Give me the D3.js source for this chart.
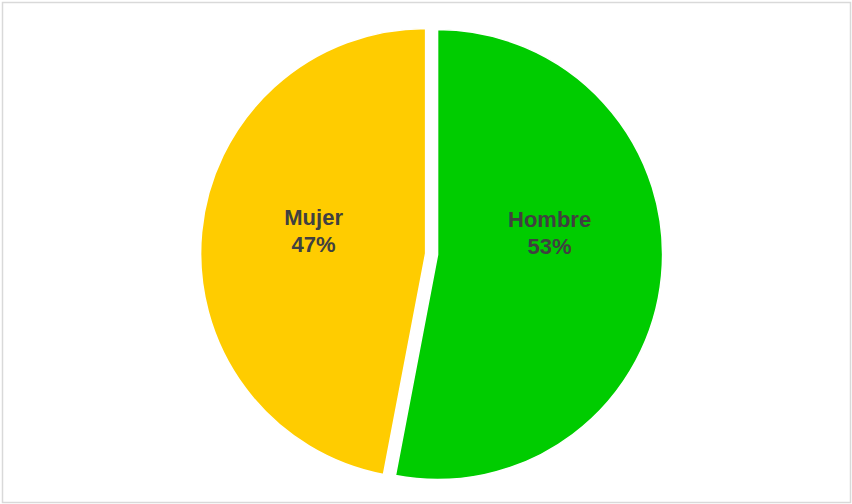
<!DOCTYPE html>
<html>
<head>
<meta charset="utf-8">
<script src="https://cdn.jsdelivr.net/npm/d3@7"></script>
<style>
  html, body { margin: 0; padding: 0; background: #ffffff; }
  svg { display: block; }
</style>
</head>
<body>
<svg id="chart" width="852" height="504"></svg>
<script>
// Distribución por sexo
const categories = ["Hombre", "Mujer"];
const values = [53, 47];
const colors = ["#00CC00", "#FFCC00"];

const width = 852, height = 504;
const cx = 431.6, cy = 254, radius = 225, explode = 6;

const svg = d3.select("#chart");

// chart frame
svg.append("rect")
  .attr("x", 2.5).attr("y", 2.5)
  .attr("width", width - 4).attr("height", height - 4)
  .attr("fill", "#ffffff")
  .attr("stroke", "#d9d9d9")
  .attr("stroke-width", 1.5);

const data = categories.map((c, i) => ({ name: c, value: values[i], color: colors[i] }));

const pie = d3.pie().value(d => d.value).sort(null).startAngle(0).endAngle(2 * Math.PI);
const arcs = pie(data);

const arc = d3.arc().innerRadius(0).outerRadius(radius);
const labelArc = d3.arc().innerRadius(radius * 0.5).outerRadius(radius * 0.5);

const g = svg.append("g").attr("transform", `translate(${cx},${cy})`);

const slices = g.selectAll("g.slice")
  .data(arcs)
  .enter().append("g")
  .attr("class", "slice")
  .attr("transform", d => {
    const mid = (d.startAngle + d.endAngle) / 2;
    return `translate(${Math.sin(mid) * explode},${-Math.cos(mid) * explode})`;
  });

slices.append("path")
  .attr("d", arc)
  .attr("fill", d => d.data.color)
  .attr("stroke", "#ffffff")
  .attr("stroke-width", 1.5);

const total = d3.sum(values);

// labels: category name and percentage, centred horizontally over the slice
const labels = slices.append("text")
  .attr("text-anchor", "middle")
  .attr("font-family", "Arial, 'Liberation Sans', sans-serif")
  .attr("font-weight", "bold")
  .attr("font-size", "22px")
  .attr("fill", "#404040");

labels.append("tspan")
  .attr("x", d => labelArc.centroid(d)[0])
  .attr("y", -28)
  .text(d => d.data.name);

labels.append("tspan")
  .attr("x", d => labelArc.centroid(d)[0])
  .attr("y", -1)
  .text(d => Math.round(d.data.value / total * 100) + "%");
</script>
</body>
</html>
